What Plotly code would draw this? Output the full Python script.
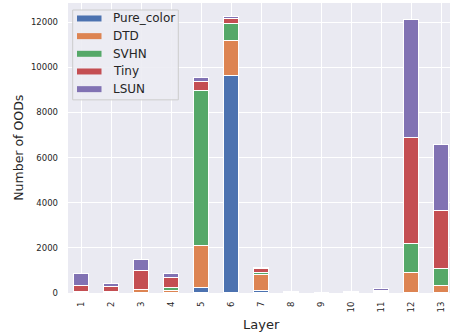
import plotly.graph_objects as go

layers = [str(i) for i in range(1, 14)]
series_names = ["Pure_color", "DTD", "SVHN", "Tiny", "LSUN"]
pure_color = [0, 0, 20, 0, 220, 9620, 100, 0, 0, 0, 0, 0, 0]
dtd = [20, 30, 100, 70, 1880, 1540, 700, 10, 0, 20, 40, 880, 320]
svhn = [10, 0, 0, 130, 6850, 740, 80, 0, 0, 0, 0, 1310, 735]
tiny = [300, 250, 860, 450, 380, 220, 170, 10, 5, 10, 60, 4680, 2560]
lsun = [520, 110, 480, 180, 200, 120, 60, 10, 0, 10, 90, 5220, 2925]
y_ticks = [0, 2000, 4000, 6000, 8000, 10000, 12000]
x_title = "Layer"
y_title = "Number of OODs"

colors = ["#4C72B0", "#DD8452", "#55A868", "#C44E52", "#8172B3"]
series = [pure_color, dtd, svhn, tiny, lsun]
FONT = "DejaVu Sans"
TXT = "#262626"

fig = go.Figure()
for name, vals, col in zip(series_names, series, colors):
    fig.add_trace(go.Bar(
        x=layers, y=vals, name=name, width=0.5,
        marker=dict(color=col, line=dict(color="white", width=1)),
        showlegend=False,
    ))

# plot area geometry in pixels
W, H = 454, 335
ml, mr, mt, mb = 68, 4, 3, 41.5
pw, ph = W - ml - mr, H - mt - mb

def px(x):
    return (x - ml) / pw

def py(y):
    return (H - mb - y) / ph

shapes = [dict(type="rect", xref="paper", yref="paper",
               x0=px(72.7), x1=px(178.3), y0=py(100), y1=py(10),
               fillcolor="rgba(236,236,243,0.9)",
               line=dict(color="#CCCCCC", width=1), layer="above")]
annotations = []
for i, (name, col) in enumerate(zip(series_names, colors)):
    yc = 18.5 + 17.7 * i
    shapes.append(dict(type="rect", xref="paper", yref="paper",
                       x0=px(77), x1=px(101.5), y0=py(yc + 3), y1=py(yc - 3),
                       fillcolor=col, line=dict(width=0), layer="above"))
    annotations.append(dict(xref="paper", yref="paper", x=px(111), y=py(yc),
                            text=name, showarrow=False, xanchor="left",
                            yanchor="middle",
                            font=dict(family=FONT, size=12, color=TXT)))

annotations.append(dict(xref="paper", yref="paper", x=px(261), y=py(325),
                        text=x_title, showarrow=False, xanchor="center",
                        yanchor="middle",
                        font=dict(family=FONT, size=13, color=TXT)))
annotations.append(dict(xref="paper", yref="paper", x=px(19), y=py(148),
                        text=y_title, showarrow=False, xanchor="center",
                        yanchor="middle", textangle=-90,
                        font=dict(family=FONT, size=12.5, color=TXT)))

fig.update_layout(
    barmode="stack",
    width=W, height=H,
    margin=dict(l=ml, r=mr, t=mt, b=mb, autoexpand=False),
    paper_bgcolor="white",
    plot_bgcolor="#EAEAF2",
    font=dict(family=FONT, color=TXT),
    shapes=shapes,
    annotations=annotations,
    bargap=0,
)
fig.update_xaxes(
    type="category", range=[-0.45, 12.3], automargin=False,
    showgrid=True, gridcolor="white", gridwidth=1,
    tickangle=-90, tickfont=dict(size=8.5, color=TXT),
    ticks="", ticklabelstandoff=6,
    zeroline=False, showline=False,
)
fig.update_yaxes(
    range=[0, 12850], tickvals=y_ticks, tickformat="d", automargin=False,
    showgrid=True, gridcolor="white", gridwidth=1,
    tickfont=dict(size=8.5, color=TXT),
    ticks="", ticklabelstandoff=9,
    zeroline=False, showline=False,
)
fig.write_html("out.html",
               config={"displayModeBar": False},
               post_script="document.body.style.margin='0';document.body.style.overflow='hidden';")
